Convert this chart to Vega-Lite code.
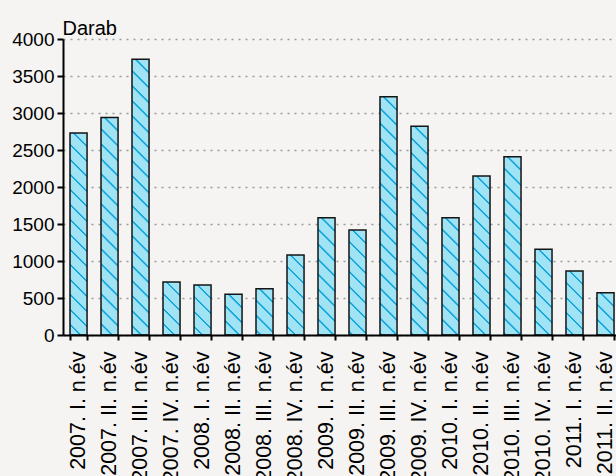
{
  "$schema": "https://vega.github.io/schema/vega-lite/v6.json",
  "width": 553,
  "height": 296,
  "autosize": {"type": "none"},
  "padding": {"left": 63, "top": 39, "right": 0, "bottom": 141},
  "background": "#f5f4f2",
  "config": {"view": {"stroke": null}, "font": "Liberation Sans"},
  "data": {
    "values": [
      {"q": "2007. I. n.év", "v": 2730},
      {"q": "2007. II. n.év", "v": 2940},
      {"q": "2007. III. n.év", "v": 3725},
      {"q": "2007. IV. n.év", "v": 715},
      {"q": "2008. I. n.év", "v": 675},
      {"q": "2008. II. n.év", "v": 550},
      {"q": "2008. III. n.év", "v": 625},
      {"q": "2008. IV. n.év", "v": 1080},
      {"q": "2009. I. n.év", "v": 1585},
      {"q": "2009. II. n.év", "v": 1420},
      {"q": "2009. III. n.év", "v": 3220},
      {"q": "2009. IV. n.év", "v": 2820},
      {"q": "2010. I. n.év", "v": 1585},
      {"q": "2010. II. n.év", "v": 2150},
      {"q": "2010. III. n.év", "v": 2410},
      {"q": "2010. IV. n.év", "v": 1160},
      {"q": "2011. I. n.év", "v": 865},
      {"q": "2011. II. n.év", "v": 570}
    ]
  },
  "encoding": {
    "x": {
      "field": "q", "type": "nominal", "sort": null,
      "scale": {"paddingInner": 0.45, "paddingOuter": 0.145, "align": 0.78},
      "axis": {
        "title": null, "labelAngle": -90, "labelFontSize": 21.5, "labelColor": "#000000",
        "labelFont": "Liberation Sans", "tickBand": "extent", "tickSize": 5, "tickWidth": 2,
        "tickColor": "#000000", "domainColor": "#000000", "domainWidth": 2, "labelPadding": 11,
        "zindex": 1, "labelOverlap": false, "labelLimit": 0
      }
    },
    "y": {
      "field": "v", "type": "quantitative",
      "scale": {"domain": [0, 4000], "nice": false},
      "axis": {
        "title": "Darab", "titleAngle": 0, "titleX": -1, "titleY": -5, "titleAlign": "left",
        "titleBaseline": "alphabetic", "titleFontSize": 20, "titleFontWeight": "normal",
        "titleColor": "#000000", "titleFont": "Liberation Sans",
        "values": [0, 500, 1000, 1500, 2000, 2500, 3000, 3500, 4000],
        "format": "d", "labelOverlap": false,
        "labelFontSize": 19, "labelColor": "#000000", "labelFont": "Liberation Sans",
        "tickSize": 6, "tickWidth": 2, "tickColor": "#000000",
        "domainColor": "#000000", "domainWidth": 2, "labelPadding": 3,
        "gridColor": "#9a9a9a", "gridDash": [2, 5], "gridWidth": 1.3
      }
    }
  },
  "layer": [
    {
      "mark": {"type": "bar", "stroke": "#141414", "strokeWidth": 1.5},
      "encoding": {
        "fill": {"value": {"expr": "gradient('color', [1, 0], [1 - 300*bandwidth('x')/(bandwidth('x')*bandwidth('x') + pow(scale('y',0)-scale('y',datum.v),2)), 300*(scale('y',0)-scale('y',datum.v))/(bandwidth('x')*bandwidth('x') + pow(scale('y',0)-scale('y',datum.v),2))], 400)"}}
      }
    },
    {
      "mark": {"type": "point", "opacity": 0},
      "encoding": {
        "color": {
          "field": "v", "type": "quantitative", "legend": null,
          "scale": {
            "domain": [0,0.8,0.85,0.95,1,1.8,1.85,1.95,2,2.8,2.85,2.95,3,3.8,3.85,3.95,4,4.8,4.85,4.95,5,5.8,5.85,5.95,6,6.8,6.85,6.95,7,7.8,7.85,7.95,8,8.8,8.85,8.95,9,9.8,9.85,9.95,10,10.8,10.85,10.95,11,11.8,11.85,11.95,12,12.8,12.85,12.95,13,13.8,13.85,13.95,14,14.8,14.85,14.95,15,15.8,15.85,15.95,16,16.8,16.85,16.95,17,17.8,17.85,17.95,18,18.8,18.85,18.95,19,19.8,19.85,19.95,20],
            "range": ["#9fe3f5",
              "#9fe3f5","#16a8dd","#16a8dd","#9fe3f5",
              "#9fe3f5","#16a8dd","#16a8dd","#9fe3f5",
              "#9fe3f5","#16a8dd","#16a8dd","#9fe3f5",
              "#9fe3f5","#16a8dd","#16a8dd","#9fe3f5",
              "#9fe3f5","#16a8dd","#16a8dd","#9fe3f5",
              "#9fe3f5","#16a8dd","#16a8dd","#9fe3f5",
              "#9fe3f5","#16a8dd","#16a8dd","#9fe3f5",
              "#9fe3f5","#16a8dd","#16a8dd","#9fe3f5",
              "#9fe3f5","#16a8dd","#16a8dd","#9fe3f5",
              "#9fe3f5","#16a8dd","#16a8dd","#9fe3f5",
              "#9fe3f5","#16a8dd","#16a8dd","#9fe3f5",
              "#9fe3f5","#16a8dd","#16a8dd","#9fe3f5",
              "#9fe3f5","#16a8dd","#16a8dd","#9fe3f5",
              "#9fe3f5","#16a8dd","#16a8dd","#9fe3f5",
              "#9fe3f5","#16a8dd","#16a8dd","#9fe3f5",
              "#9fe3f5","#16a8dd","#16a8dd","#9fe3f5",
              "#9fe3f5","#16a8dd","#16a8dd","#9fe3f5",
              "#9fe3f5","#16a8dd","#16a8dd","#9fe3f5",
              "#9fe3f5","#16a8dd","#16a8dd","#9fe3f5",
              "#9fe3f5","#16a8dd","#16a8dd","#9fe3f5"]
          }
        }
      }
    }
  ]
}
